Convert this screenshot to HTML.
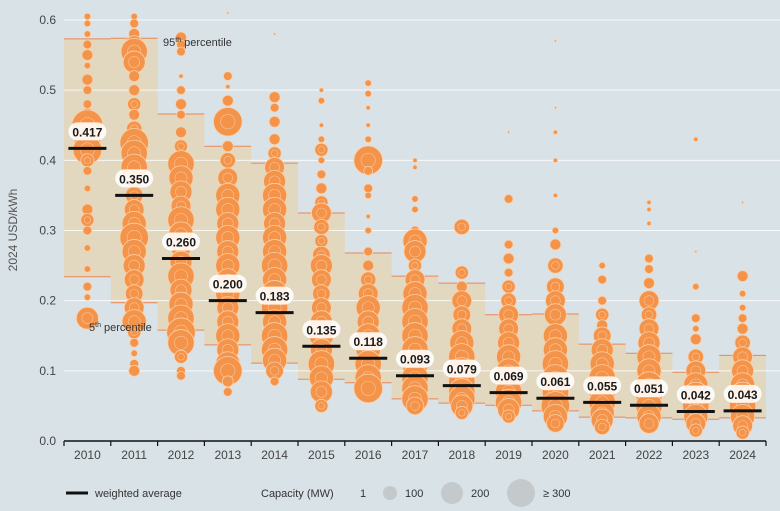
<!DOCTYPE html>
<html><head><meta charset="utf-8"><style>
body{margin:0;background:#d9e2e7;}
svg{display:block;font-family:"Liberation Sans",sans-serif;}
</style></head><body>
<svg id="chart" width="780" height="511" viewBox="0 0 780 511">
<rect x="0" y="0" width="780" height="511" fill="#d9e2e7"/>
<g id="boxes"></g>
<g id="grid"></g>
<g id="bubbles"></g>
<g id="avgs"></g>
<g id="axes"></g>
<text x="163" y="46" font-size="11" fill="#333">95<tspan font-size="7" dy="-4">th</tspan><tspan dy="4"> percentile</tspan></text>
<text x="89" y="331" font-size="11" fill="#333">5<tspan font-size="7" dy="-4">th</tspan><tspan dy="4"> percentile</tspan></text>
<text transform="translate(17,230) rotate(-90)" text-anchor="middle" font-size="12" fill="#555">2024 USD/kWh</text>
<g>
<line x1="66" y1="493" x2="88" y2="493" stroke="#111" stroke-width="3"/>
<text x="95" y="497" font-size="11" fill="#333">weighted average</text>
<text x="261" y="497" font-size="11" fill="#333">Capacity (MW)</text>
<text x="360" y="497" font-size="11" fill="#333">1</text>
<circle cx="390" cy="493" r="7" fill="#c4c9cc"/>
<text x="405" y="497" font-size="11" fill="#333">100</text>
<circle cx="452" cy="493" r="11" fill="#c4c9cc"/>
<text x="471" y="497" font-size="11" fill="#333">200</text>
<circle cx="521" cy="493" r="14" fill="#c4c9cc"/>
<text x="543" y="497" font-size="11" fill="#333">≥ 300</text>
</g>
</svg>
<script>
const years=["2010","2011","2012","2013","2014","2015","2016","2017","2018","2019","2020","2021","2022","2023","2024"];
const averages=[0.417,0.350,0.260,0.200,0.183,0.135,0.118,0.093,0.079,0.069,0.061,0.055,0.051,0.042,0.043];
const p95=[0.573,0.574,0.466,0.420,0.396,0.325,0.268,0.235,0.225,0.180,0.181,0.138,0.125,0.098,0.122];
const p5=[0.234,0.197,0.158,0.137,0.111,0.088,0.083,0.060,0.054,0.051,0.043,0.034,0.033,0.031,0.033];
const yTicks=[0,0.1,0.2,0.3,0.4,0.5,0.6];
const yTickLabels=["0.0","0.1","0.2","0.3","0.4","0.5","0.6"];
const projects=[
[[0.605,3],[0.595,3],[0.58,3],[0.565,4],[0.55,5],[0.535,3],[0.515,5],[0.50,4],[0.48,4],[0.465,6],[0.45,14],[0.43,12],[0.415,13],[0.40,6],[0.385,4],[0.36,3],[0.33,5],[0.315,6],[0.30,4],[0.275,3],[0.245,3],[0.22,4],[0.205,3],[0.175,10]],
[[0.605,3],[0.595,4],[0.58,5],[0.565,8],[0.555,12],[0.54,10],[0.52,5],[0.50,5],[0.48,6],[0.465,5],[0.445,7],[0.425,13],[0.41,12],[0.39,12],[0.37,7],[0.35,8],[0.33,9],[0.31,11],[0.29,13],[0.27,11],[0.25,10],[0.23,9],[0.21,8],[0.19,9],[0.17,11],[0.155,6],[0.14,4],[0.125,3],[0.11,4],[0.10,5]],
[[0.575,5],[0.565,4],[0.555,4],[0.52,2],[0.5,4],[0.48,5],[0.465,4],[0.44,5],[0.42,6],[0.395,12],[0.375,11],[0.355,10],[0.335,9],[0.315,12],[0.295,11],[0.275,9],[0.255,10],[0.235,12],[0.215,10],[0.195,11],[0.175,12],[0.155,13],[0.14,12],[0.12,6],[0.10,4],[0.093,4]],
[[0.61,1],[0.52,4],[0.505,2],[0.485,5],[0.455,13],[0.42,5],[0.40,7],[0.375,9],[0.35,11],[0.33,11],[0.31,10],[0.29,11],[0.27,10],[0.25,11],[0.23,10],[0.21,11],[0.19,10],[0.17,10],[0.15,11],[0.13,10],[0.11,11],[0.10,13],[0.085,5],[0.07,4]],
[[0.58,1],[0.49,5],[0.475,4],[0.455,5],[0.43,5],[0.41,6],[0.39,9],[0.37,10],[0.35,11],[0.33,11],[0.31,10],[0.29,11],[0.27,11],[0.25,12],[0.23,11],[0.21,12],[0.19,12],[0.17,11],[0.15,12],[0.13,12],[0.115,11],[0.10,8],[0.085,4]],
[[0.50,2],[0.485,3],[0.45,2],[0.43,3],[0.415,6],[0.40,3],[0.38,4],[0.36,5],[0.34,6],[0.325,9],[0.305,7],[0.285,6],[0.265,8],[0.25,10],[0.23,9],[0.21,8],[0.19,9],[0.17,10],[0.15,11],[0.13,10],[0.11,12],[0.09,11],[0.07,10],[0.05,6]],
[[0.51,3],[0.495,3],[0.475,2],[0.45,2],[0.43,3],[0.40,13],[0.385,4],[0.36,4],[0.35,3],[0.32,2],[0.30,3],[0.27,4],[0.25,5],[0.23,7],[0.21,9],[0.19,11],[0.17,10],[0.15,11],[0.13,11],[0.11,12],[0.09,12],[0.075,13]],
[[0.40,2],[0.39,2],[0.345,3],[0.33,3],[0.30,4],[0.285,11],[0.27,10],[0.25,6],[0.23,9],[0.21,11],[0.19,12],[0.17,12],[0.15,12],[0.13,12],[0.11,12],[0.09,12],[0.075,12],[0.06,12],[0.05,8]],
[[0.305,7],[0.24,6],[0.22,5],[0.20,9],[0.18,8],[0.16,9],[0.14,11],[0.12,12],[0.10,12],[0.085,12],[0.07,12],[0.06,12],[0.05,10],[0.04,6]],
[[0.44,1],[0.345,4],[0.28,4],[0.26,5],[0.24,4],[0.22,6],[0.20,7],[0.18,9],[0.16,9],[0.14,10],[0.12,11],[0.10,11],[0.085,11],[0.07,12],[0.055,12],[0.045,10],[0.035,6]],
[[0.57,1],[0.475,1],[0.44,2],[0.40,2],[0.35,2],[0.30,3],[0.28,5],[0.25,7],[0.22,8],[0.20,9],[0.18,10],[0.15,11],[0.13,11],[0.11,12],[0.09,12],[0.07,12],[0.05,13],[0.035,11],[0.025,8]],
[[0.25,3],[0.23,4],[0.20,4],[0.18,6],[0.165,5],[0.15,8],[0.13,10],[0.11,11],[0.09,12],[0.07,12],[0.055,12],[0.04,11],[0.03,10],[0.02,7]],
[[0.34,2],[0.33,2],[0.31,2],[0.26,4],[0.245,4],[0.225,5],[0.20,9],[0.18,7],[0.16,9],[0.14,10],[0.12,11],[0.10,11],[0.08,12],[0.065,12],[0.05,12],[0.035,11],[0.025,9]],
[[0.43,2],[0.27,1],[0.22,3],[0.175,4],[0.16,3],[0.145,5],[0.12,7],[0.10,9],[0.08,11],[0.065,12],[0.05,12],[0.035,11],[0.025,9],[0.015,6]],
[[0.34,1],[0.235,5],[0.21,3],[0.19,3],[0.175,4],[0.16,5],[0.14,7],[0.12,9],[0.10,10],[0.08,11],[0.065,12],[0.05,12],[0.035,11],[0.022,9],[0.012,6]]
];
const NS="http://www.w3.org/2000/svg";
const X0=64,X1=766,Y0=441,PX=701.7,RS=1.1;
const bw=(X1-X0)/years.length;
function xBand(i){return X0+i*bw;}
function xC(i){return X0+(i+0.5)*bw;}
function yS(v){return Y0-v*PX;}
function mk(tag,attrs,parent){const e=document.createElementNS(NS,tag);for(const k in attrs)e.setAttribute(k,attrs[k]);parent.appendChild(e);return e;}
const gB=document.getElementById('boxes'),gG=document.getElementById('grid'),gBu=document.getElementById('bubbles'),gA=document.getElementById('avgs'),gX=document.getElementById('axes');
years.forEach((y,i)=>{
  const r=mk('rect',{x:xBand(i),y:yS(p95[i]),width:bw,height:yS(p5[i])-yS(p95[i]),fill:'#e2d7bf'},gB);
  
  
  const l1=mk('line',{x1:xBand(i),x2:xBand(i)+bw,y1:yS(p95[i]),y2:yS(p95[i]),stroke:'#e7875a','stroke-width':1},gB);
  
  
  const l2=mk('line',{x1:xBand(i),x2:xBand(i)+bw,y1:yS(p5[i]),y2:yS(p5[i]),stroke:'#e7875a','stroke-width':1},gB);
  
  
});
yTicks.forEach((t,k)=>{
  if(t>0){const g=mk('line',{x1:X0,x2:780,y1:yS(t),y2:yS(t),stroke:'#ffffff','stroke-width':1,opacity:0.8},gG);
  
  }
  const tx=mk('text',{x:56,y:yS(t)+4,'text-anchor':'end','font-size':12,fill:'#444'},gX);
  tx.textContent=yTickLabels[k];
  
  
});
projects.forEach((list,i)=>{
  list.forEach(p=>{
    const c=mk('circle',{cx:xC(i),cy:yS(p[0]),r:p[1]*RS,fill:'#f4934a',stroke:'#fbd0a8','stroke-width':0.8},gBu);
    
    
    if(p[1]>5){const c2=mk('circle',{cx:xC(i),cy:yS(p[0]),r:p[1]*RS*0.5,fill:'none',stroke:'#fbc597','stroke-width':0.6},gBu);
    
    }
  });
});
averages.forEach((a,i)=>{
  const l=mk('line',{x1:xC(i)-19,x2:xC(i)+19,y1:yS(a),y2:yS(a),stroke:'#111','stroke-width':3},gA);
  
  
  const bg=mk('rect',{x:xC(i)-19,y:yS(a)-26,width:38,height:18,rx:9,fill:'#ffffff',opacity:0.88},gA);
  
  
  const t=mk('text',{x:xC(i),y:yS(a)-12,'text-anchor':'middle','font-size':12,'font-weight':'bold',fill:'#1a1a1a'},gA);
  t.textContent=a.toFixed(3);
  
  
});
const ax=mk('line',{x1:X0,x2:X1,y1:Y0,y2:Y0,stroke:'#111','stroke-width':1.5},gX);


for(let i=0;i<=years.length;i++){
  const tk=mk('line',{x1:xBand(i),x2:xBand(i),y1:Y0,y2:Y0+5,stroke:'#111','stroke-width':1.2},gX);
  
  
}
years.forEach((y,i)=>{
  const t=mk('text',{x:xC(i),y:Y0+18,'text-anchor':'middle','font-size':12,fill:'#444'},gX);
  t.textContent=y;
  
  
});
</script>
</body></html>
